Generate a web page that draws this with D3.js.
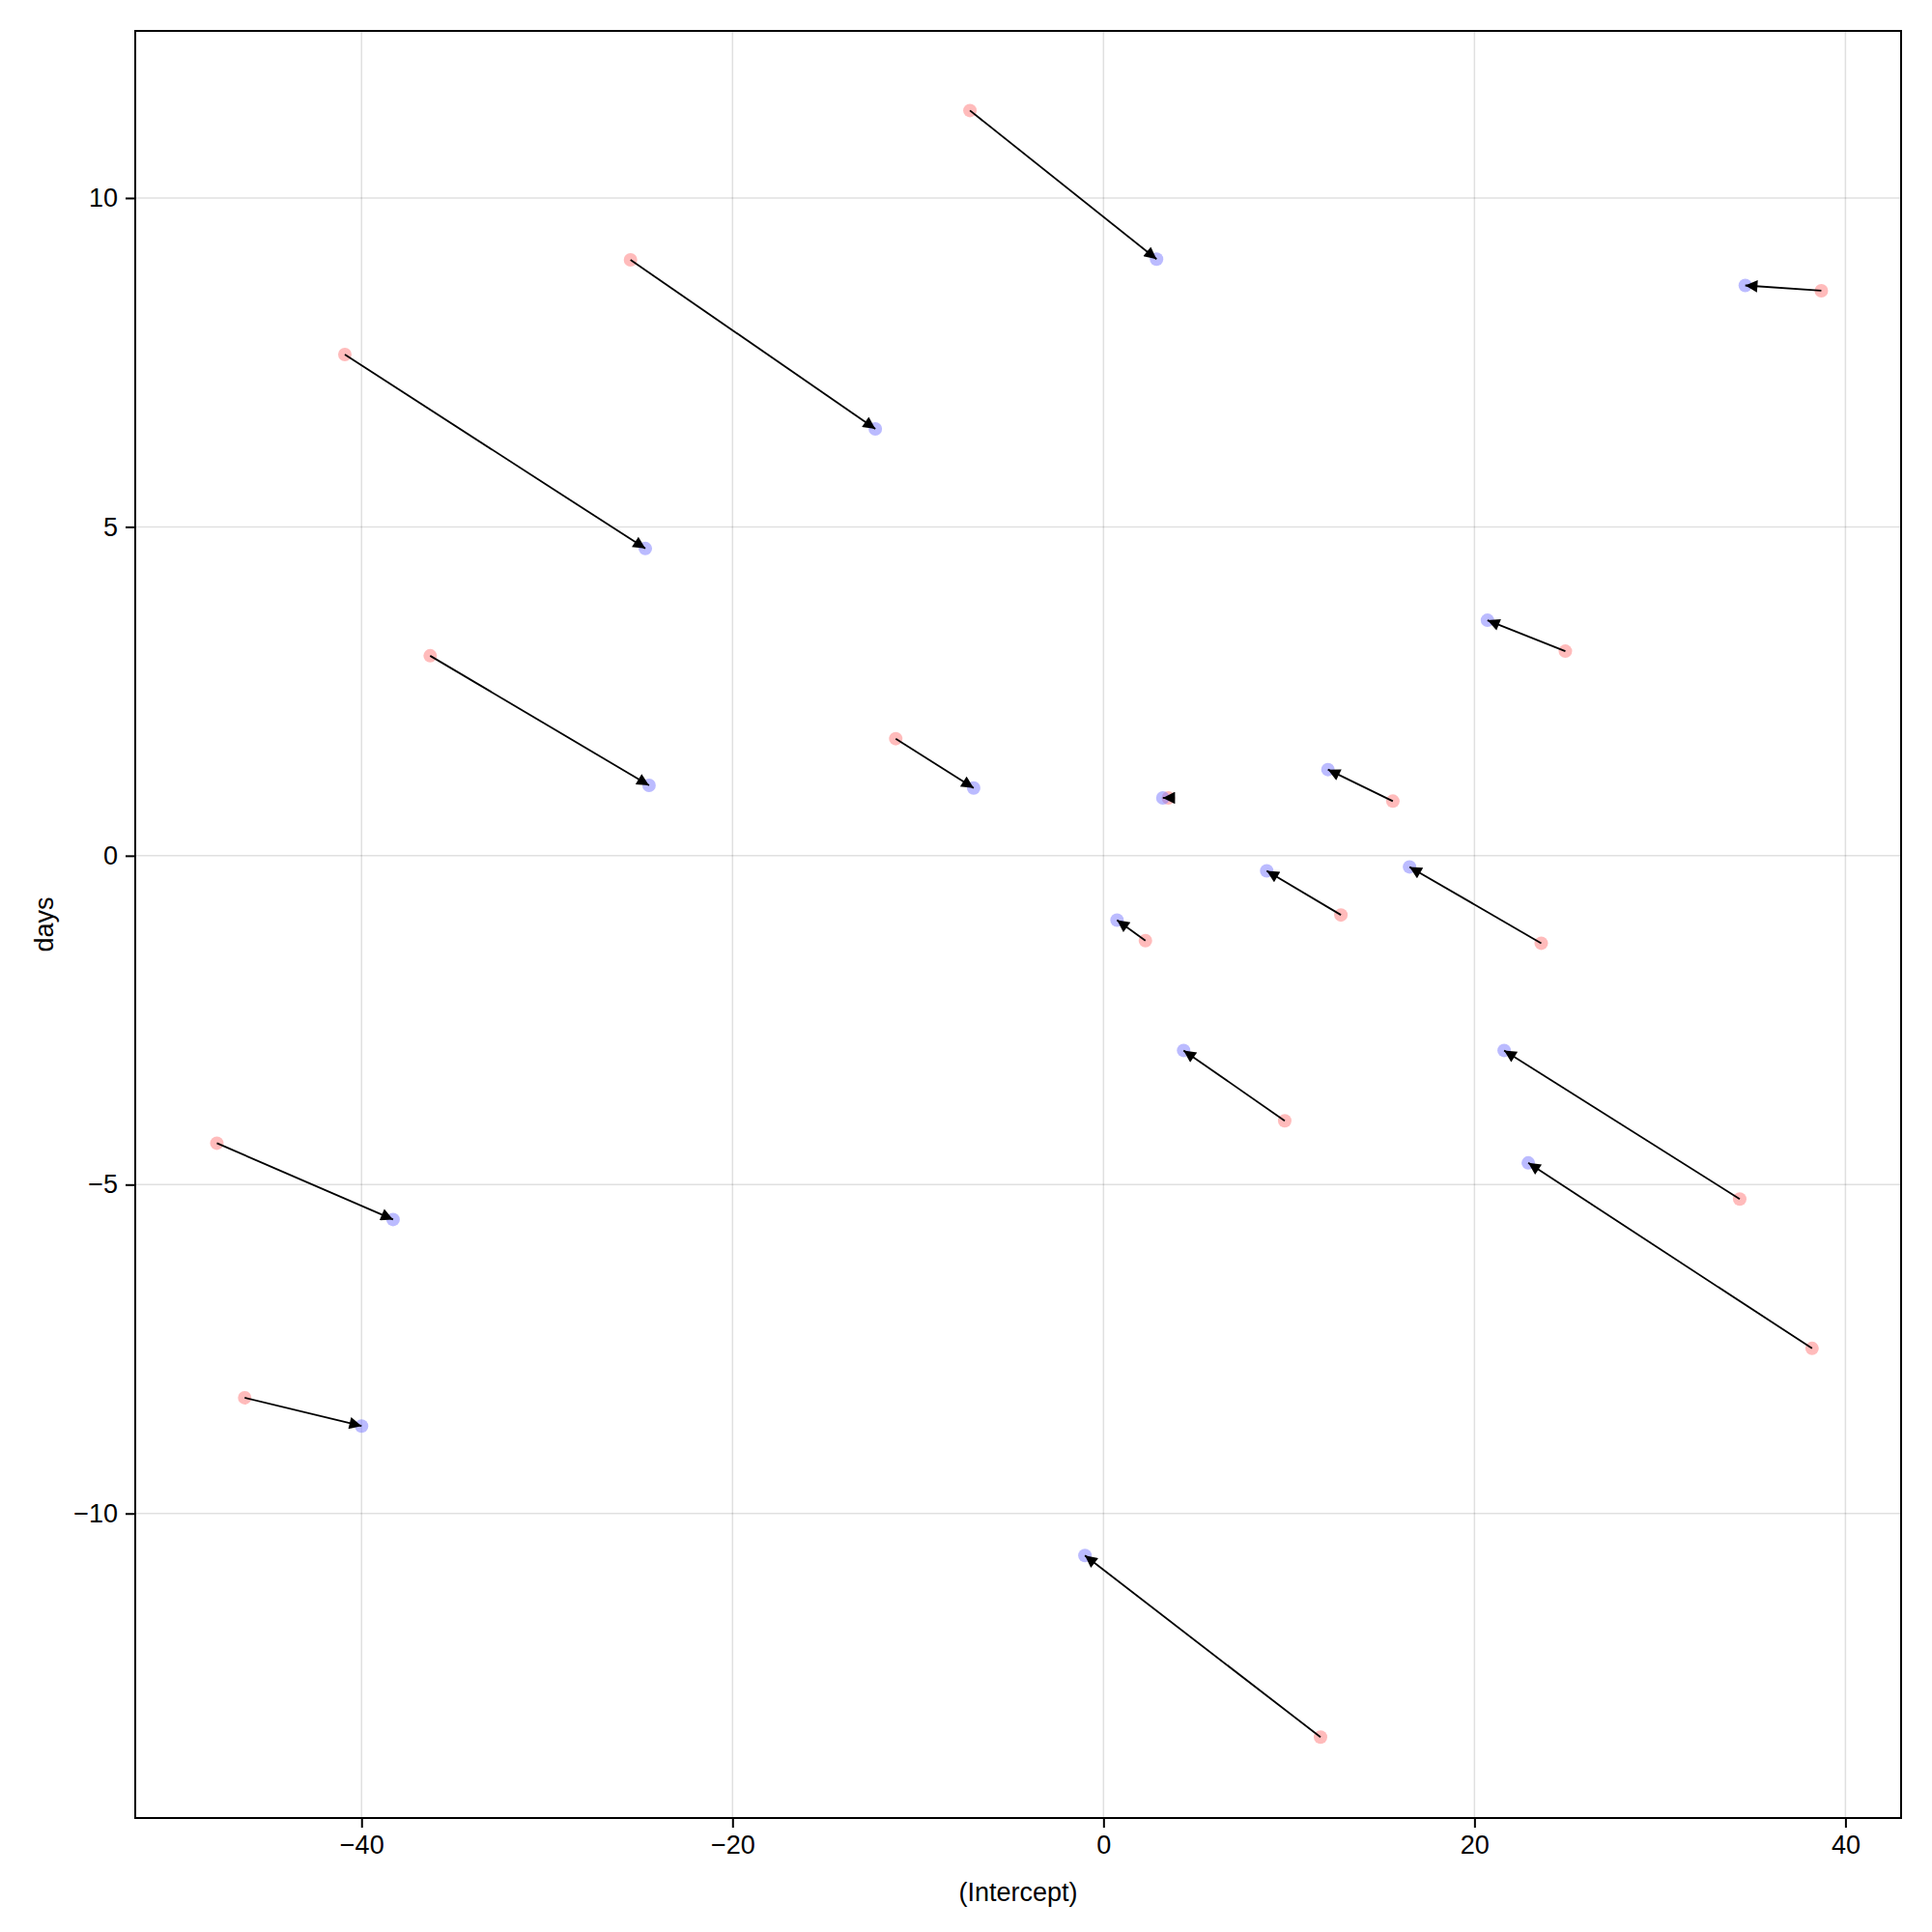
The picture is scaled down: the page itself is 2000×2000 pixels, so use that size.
<!DOCTYPE html>
<html><head><meta charset="utf-8">
<script src="https://cdn.jsdelivr.net/npm/d3@7"></script>
<style>body{margin:0;background:#fff}</style></head>
<body><svg id="c" width="2000" height="2000"></svg>
<script>
const startX=[-7.2,38.7,-25.5,-40.9,-36.3,-11.2,3.5,24.9,15.6,12.8,23.6,2.26,9.77,34.3,38.2,-47.8,-46.3,11.7];
const startY=[11.33,8.59,9.06,7.62,3.04,1.78,0.88,3.11,0.83,-0.90,-1.33,-1.29,-4.03,-5.22,-7.49,-4.37,-8.24,-13.40];
const endX=[2.86,34.6,-12.3,-24.7,-24.5,-7.0,3.2,20.7,12.1,8.8,16.5,0.73,4.32,21.6,22.9,-38.3,-40.0,-1.0];
const endY=[9.07,8.67,6.49,4.67,1.07,1.03,0.88,3.58,1.31,-0.23,-0.17,-0.98,-2.96,-2.96,-4.67,-5.53,-8.67,-10.64];
const xTicks=[-40,-20,0,20,40], yTicks=[-10,-5,0,5,10];
const L=140,R=1968,T=32,B=1882;
const x=d3.scaleLinear().domain([-52.2,43.0]).range([L,R]);
const y=d3.scaleLinear().domain([-14.63,12.54]).range([B,T]);
const svg=d3.select("#c");
const font="'Liberation Sans', Arial, sans-serif";
svg.append("defs").append("marker").attr("id","ah").attr("viewBox","0 0 10 10").attr("refX",10).attr("refY",5)
 .attr("markerWidth",9).attr("markerHeight",7).attr("markerUnits","strokeWidth").attr("orient","auto")
 .append("path").attr("d","M0,0L10,5L0,10z").attr("fill","#000");
const g=svg.append("g");
g.selectAll(".gx").data(xTicks).join("line").attr("x1",d=>x(d)).attr("x2",d=>x(d)).attr("y1",T).attr("y2",B).attr("stroke","#000").attr("stroke-opacity",0.12).attr("stroke-width",1.5);
g.selectAll(".gy").data(yTicks).join("line").attr("y1",d=>y(d)).attr("y2",d=>y(d)).attr("x1",L).attr("x2",R).attr("stroke","#000").attr("stroke-opacity",0.12).attr("stroke-width",1.5);
const idx=d3.range(startX.length);
g.selectAll(".s").data(idx).join("circle").attr("cx",i=>x(startX[i])).attr("cy",i=>y(startY[i])).attr("r",7).attr("fill","rgba(255,120,120,0.5)");
g.selectAll(".e").data(idx).join("circle").attr("cx",i=>x(endX[i])).attr("cy",i=>y(endY[i])).attr("r",7).attr("fill","rgba(120,120,255,0.5)");
g.selectAll(".a").data(idx).join("line").attr("x1",i=>x(startX[i])).attr("y1",i=>y(startY[i])).attr("x2",i=>x(endX[i])).attr("y2",i=>y(endY[i]))
 .attr("stroke","#000").attr("stroke-width",1.8).attr("marker-end","url(#ah)");
svg.append("rect").attr("x",L).attr("y",T).attr("width",R-L).attr("height",B-T).attr("fill","none").attr("stroke","#000").attr("stroke-width",2);
const fmt=d=>d<0?"\u2212"+Math.abs(d):""+d;
const ax=svg.append("g").attr("transform",`translate(0,${B})`).call(d3.axisBottom(x).tickValues(xTicks).tickFormat(fmt).tickSize(10).tickPadding(8));
const ay=svg.append("g").attr("transform",`translate(${L},0)`).call(d3.axisLeft(y).tickValues(yTicks).tickFormat(fmt).tickSize(10).tickPadding(8));
[ax,ay].forEach(a=>{a.select(".domain").remove();a.selectAll("line").attr("stroke-width",2);a.selectAll("text").attr("font-size",27).attr("font-family",font);});
svg.append("text").attr("x",(L+R)/2).attr("y",1968).attr("text-anchor","middle").attr("font-size",27).attr("font-family",font).text("(Intercept)");
svg.append("text").attr("transform",`translate(55,${(T+B)/2}) rotate(-90)`).attr("text-anchor","middle").attr("font-size",27).attr("font-family",font).text("days");
</script></body></html>
